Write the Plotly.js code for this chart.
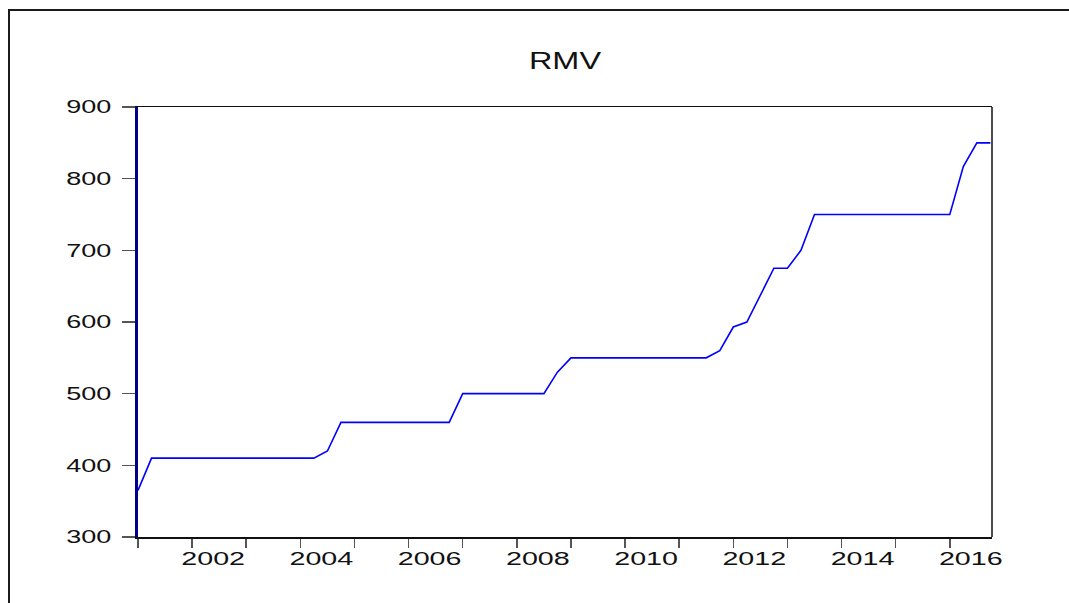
<!DOCTYPE html>
<html>
<head>
<meta charset="utf-8">
<script src="https://cdn.plot.ly/plotly-3.0.1.min.js"></script>
<style>
  html, body { margin: 0; padding: 0; background: #fff; }
  #chart { width: 1069px; height: 603px; position: absolute; left: 0; top: 0; }
  #frame { position: absolute; left: 8px; top: 9px; width: 1100px; height: 640px;
           border-left: 2px solid #1a1a1a; border-top: 2px solid #1a1a1a; pointer-events: none; }
</style>
</head>
<body>
<div id="chart"></div>
<div id="frame"></div>
<script>
// Quarterly series RMV, 2001Q1 .. 2016Q4
var startYear = 2001;
var rmv = [
  365, 410, 410, 410, 410, 410, 410, 410, 410, 410, 410, 410, 410, 410,
  420, 460, 460, 460, 460, 460, 460, 460, 460, 460,
  500, 500, 500, 500, 500, 500, 500,
  530, 550, 550, 550, 550, 550, 550, 550, 550, 550, 550, 550,
  560, 593, 600, 637, 675, 675, 700,
  750, 750, 750, 750, 750, 750, 750, 750, 750, 750, 750,
  817, 850, 850
];
var tickYears = [2001,2002,2003,2004,2005,2006,2007,2008,2009,2010,2011,2012,2013,2014,2015,2016];
var tickLabels = ['','2002','','2004','','2006','','2008','','2010','','2012','','2014','','2016'];
var yTicks = [300,400,500,600,700,800,900];

var periods = rmv.map(function(v, i){ return startYear + i / 4; });

var trace = {
  x: periods, y: rmv, type: 'scatter', mode: 'lines',
  line: { color: '#0000FF', width: 1.6 }, hoverinfo: 'skip'
};

var font = { family: 'Liberation Sans, Arial, sans-serif', color: '#111', size: 18.5 };

var layout = {
  width: 1069, height: 603,
  margin: { l: 138, r: 77, t: 107, b: 66 },
  paper_bgcolor: '#fff', plot_bgcolor: '#fff',
  showlegend: false,
  title: { text: 'RMV', x: 0.5, xref: 'paper', xanchor: 'center',
           y: 1 - 61/603, yref: 'container', yanchor: 'middle',
           font: { family: 'Liberation Sans, Arial, sans-serif', size: 23, color: '#111' } },
  xaxis: {
    range: [2001, 2016.78], showgrid: false, zeroline: false,
    showline: true, linecolor: '#111', linewidth: 1.5, mirror: true,
    tickmode: 'array', tickvals: tickYears, ticktext: tickLabels,
    ticks: 'outside', ticklen: 9, tickwidth: 1.5, tickcolor: '#555',
    ticklabelshift: 21, ticklabelstandoff: -5,
    tickfont: font
  },
  yaxis: {
    range: [300, 900], showgrid: false, zeroline: false,
    showline: true, linecolor: '#00008B', linewidth: 3,
    tickmode: 'array', tickvals: yTicks,
    ticks: 'outside', ticklen: 13, tickwidth: 1.5, tickcolor: '#555',
    ticklabelstandoff: 7,
    tickfont: font
  },
  shapes: [
    { type: 'line', xref: 'paper', yref: 'paper', x0: 1, x1: 1, y0: 0, y1: 1,
      line: { color: '#111', width: 1.5 } }
  ]
};

function stretch(sel, factor) {
  document.querySelectorAll(sel).forEach(function(t){
    if (!t.textContent) return;
    var w = t.getComputedTextLength();
    if (w > 0) {
      t.setAttribute('textLength', (w * factor).toFixed(1));
      t.setAttribute('lengthAdjust', 'spacingAndGlyphs');
    }
  });
}

Plotly.newPlot('chart', [trace], layout, { staticPlot: true, displayModeBar: false }).then(function(){
  stretch('.xtick text', 1.55);
  stretch('.ytick text', 1.46);
  stretch('.gtitle', 1.41);
});
</script>
</body>
</html>
